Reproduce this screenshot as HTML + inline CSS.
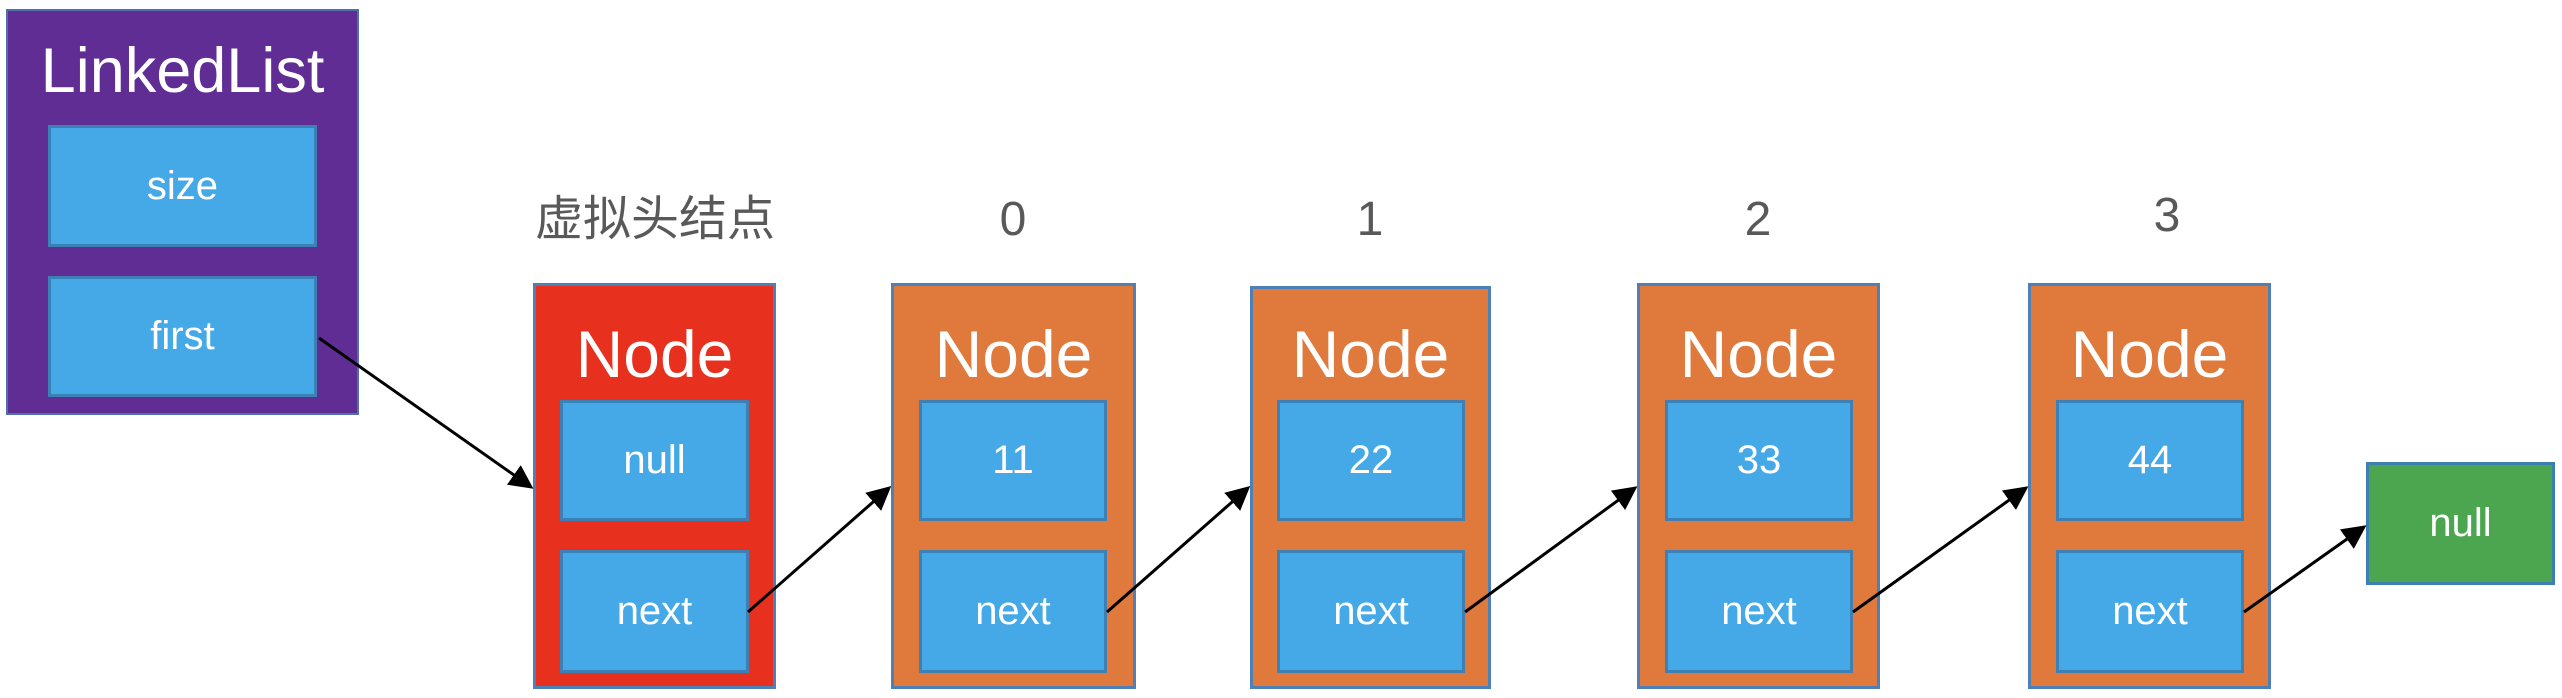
<!DOCTYPE html>
<html><head><meta charset="utf-8"><style>
body{margin:0;width:2562px;height:698px;background:#fff;position:relative;overflow:hidden;font-family:"Segoe UI","Liberation Sans","Noto Sans CJK SC",sans-serif;}
.a{position:absolute;box-sizing:border-box;}
.box{background:#46a9e7;border:3px solid #3d80b5;color:#fff;font-size:40px;display:flex;align-items:center;justify-content:center;}
.node{border:3px solid #4f7fb7;}
.t{color:#fff;text-align:center;position:absolute;left:0;right:0;}
.lbl{position:absolute;color:#595959;font-size:48px;text-align:center;}
</style></head><body>
<div class="a" style="left:6px;top:9px;width:353px;height:406px;background:#602d94;border:2px solid #4f6fae;">
 <div class="t" style="top:20px;font-size:63px;line-height:80px;">LinkedList</div>
</div>
<div class="a box" style="left:48px;top:125px;width:269px;height:122px;">size</div>
<div class="a box" style="left:48px;top:276px;width:269px;height:121px;">first</div>

<div class="lbl" style="left:500px;width:310px;top:190px;line-height:60px;">虚拟头结点</div>
<div class="lbl" style="left:963px;width:100px;top:190px;line-height:60px;">0</div>
<div class="lbl" style="left:1320px;width:100px;top:190px;line-height:60px;">1</div>
<div class="lbl" style="left:1708px;width:100px;top:190px;line-height:60px;">2</div>
<div class="lbl" style="left:2117px;width:100px;top:186px;line-height:60px;">3</div>

<div class="a node" style="left:533px;top:283px;width:243px;height:406px;background:#e8301f;"><div class="t" style="top:28px;font-size:66px;line-height:80px;">Node</div></div>
<div class="a box" style="left:560px;top:400px;width:189px;height:121px;">null</div>
<div class="a box" style="left:560px;top:550px;width:189px;height:123px;">next</div>

<div class="a node" style="left:891px;top:283px;width:245px;height:406px;background:#e07a3c;"><div class="t" style="top:28px;font-size:66px;line-height:80px;">Node</div></div>
<div class="a box" style="left:919px;top:400px;width:188px;height:121px;">11</div>
<div class="a box" style="left:919px;top:550px;width:188px;height:123px;">next</div>

<div class="a node" style="left:1250px;top:286px;width:241px;height:403px;background:#e07a3c;"><div class="t" style="top:25px;font-size:66px;line-height:80px;">Node</div></div>
<div class="a box" style="left:1277px;top:400px;width:188px;height:121px;">22</div>
<div class="a box" style="left:1277px;top:550px;width:188px;height:123px;">next</div>

<div class="a node" style="left:1637px;top:283px;width:243px;height:406px;background:#e07a3c;"><div class="t" style="top:28px;font-size:66px;line-height:80px;">Node</div></div>
<div class="a box" style="left:1665px;top:400px;width:188px;height:121px;">33</div>
<div class="a box" style="left:1665px;top:550px;width:188px;height:123px;">next</div>

<div class="a node" style="left:2028px;top:283px;width:243px;height:406px;background:#e07a3c;"><div class="t" style="top:28px;font-size:66px;line-height:80px;">Node</div></div>
<div class="a box" style="left:2056px;top:400px;width:188px;height:121px;">44</div>
<div class="a box" style="left:2056px;top:550px;width:188px;height:123px;">next</div>

<div class="a box" style="left:2366px;top:462px;width:189px;height:123px;background:#4ca64f;border-color:#3d7fb0;">null</div>

<svg class="a" style="left:0;top:0" width="2562" height="698">
<defs><marker id="m" markerWidth="8" markerHeight="8" refX="7" refY="4" orient="auto" markerUnits="strokeWidth"><path d="M0,0 L8,4 L0,8 z" fill="#000"/></marker></defs>
<g stroke="#000" stroke-width="3" marker-end="url(#m)" fill="none">
<line x1="319" y1="338" x2="531" y2="487"/>
<line x1="748" y1="612" x2="889" y2="488"/>
<line x1="1107" y1="612" x2="1248" y2="488"/>
<line x1="1465" y1="612" x2="1635" y2="488"/>
<line x1="1853" y1="612" x2="2026" y2="488"/>
<line x1="2244" y1="612" x2="2364" y2="527"/>
</g></svg>
</body></html>
